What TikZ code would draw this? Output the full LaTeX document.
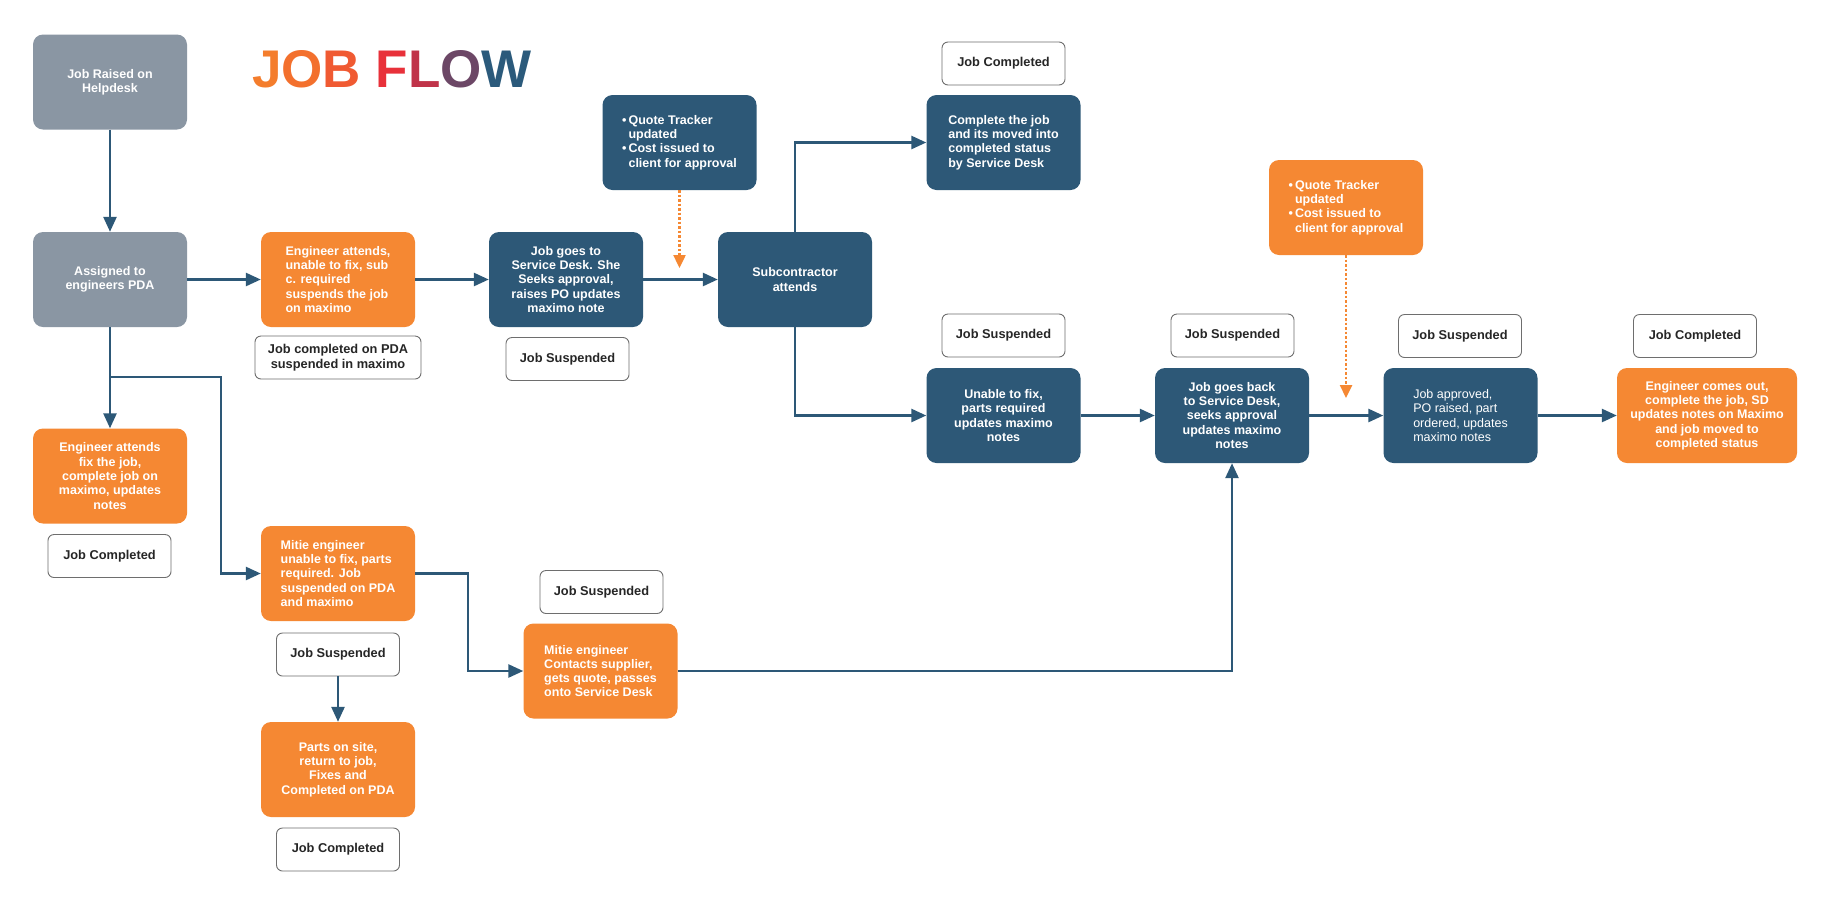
\documentclass[tikz,border=0pt]{standalone}
\usepackage{fontspec}
\setmainfont{Liberation Sans}
\usetikzlibrary{arrows.meta}
\definecolor{dblue}{HTML}{2D5877}
\definecolor{orng}{HTML}{F58833}
\definecolor{gry}{HTML}{8A96A3}
\definecolor{lgray}{HTML}{6E6E6E}
\definecolor{txt}{HTML}{262626}
\definecolor{tA}{HTML}{F47D2C}
\definecolor{tB}{HTML}{F3702D}
\definecolor{tC}{HTML}{F05A32}
\definecolor{tD}{HTML}{E8313A}
\definecolor{tE}{HTML}{C03349}
\definecolor{tF}{HTML}{6C4766}
\definecolor{tG}{HTML}{2B5A7B}
\tikzset{
  boxbase/.style={rounded corners=10pt, minimum width=154pt, minimum height=95pt,
    text=white, font=\bfseries\fontsize{12.5}{14.3}\selectfont, align=center, inner sep=0pt},
  bbox/.style={boxbase, fill=dblue},
  obox/.style={boxbase, fill=orng},
  gbox/.style={boxbase, fill=gry},
  lbl/.style={draw=lgray, line width=0.9pt, rounded corners=6pt, fill=white,
    minimum width=123pt, minimum height=43pt, inner sep=0pt,
    font=\bfseries\fontsize{12.8}{14.5}\selectfont, text=txt, align=center},
  arr/.style={draw=dblue, line width=2.6pt, -{Triangle[length=15pt,width=13pt]}},
  dotarr/.style={draw=orng, line width=2.4pt, dash pattern=on 2.5pt off 2pt,
    -{Triangle[length=13pt,width=12pt]}}
}
\newcommand{\bul}{\textbullet\,}
\newcommand{\nobul}{\phantom{\textbullet\,}}
\begin{document}
\begin{tikzpicture}[x=1pt,y=-1pt]
\useasboundingbox[fill=white] (0,0) rectangle (1836,903);

% title
\node[anchor=base west, inner sep=0pt, font=\bfseries\fontsize{53}{60}\selectfont] (title) at (252,87)
  {\textcolor{tA}{J}\textcolor{tB}{O}\textcolor{tC}{B} \textcolor{tD}{F}\textcolor{tE}{L}\textcolor{tF}{O}\textcolor{tG}{W}};

% boxes
\node[gbox] (raised) at (110,82) {Job Raised on\\Helpdesk};
\node[gbox] (assigned) at (110,279.5) {Assigned to\\engineers PDA};
\node[obox, align=left] (engA) at (338,279.5) {Engineer attends,\\unable to fix, sub\\c. required\\suspends the job\\on maximo};
\node[lbl, minimum width=166pt] (lblA) at (338,357.5) {Job completed on PDA\\suspended in maximo};
\node[bbox] (sd) at (566,279.5) {Job goes to\\Service Desk. She\\Seeks approval,\\raises PO updates\\maximo note};
\node[lbl] (lblSD) at (567.5,359) {Job Suspended};
\node[bbox, align=left] (qt1) at (679.5,142.5) {\bul Quote Tracker\\\nobul updated\\\bul Cost issued to\\\nobul client for approval};
\node[bbox] (sub) at (795,279.5) {Subcontractor\\attends};
\node[bbox, align=left] (complete) at (1003.5,142.5) {Complete the job\\and its moved into\\completed status\\by Service Desk};
\node[lbl] (lblC1) at (1003.5,63.5) {Job Completed};
\node[bbox] (unable) at (1003.5,415.5) {Unable to fix,\\parts required\\updates maximo\\notes};
\node[lbl] (lblU) at (1003.5,335.5) {Job Suspended};
\node[bbox] (back) at (1232,415.5) {Job goes back\\to Service Desk,\\seeks approval\\updates maximo\\notes};
\node[lbl] (lblB) at (1232.5,335.5) {Job Suspended};
\node[obox, align=left] (qt2) at (1346,207.5) {\bul Quote Tracker\\\nobul updated\\\bul Cost issued to\\\nobul client for approval};
\node[bbox, align=left, font=\fontsize{12.5}{14.3}\selectfont] (approved) at (1460.5,415.5) {Job approved,\\PO raised, part\\ordered, updates\\maximo notes};
\node[lbl] (lblAp) at (1460,336) {Job Suspended};
\node[obox, minimum width=180pt] (engOut) at (1707,415.5) {Engineer comes out,\\complete the job, SD\\updates notes on Maximo\\and job moved to\\completed status};
\node[lbl] (lblEO) at (1695,336) {Job Completed};
\node[obox] (engFix) at (110,476) {Engineer attends\\fix the job,\\complete job on\\maximo, updates\\notes};
\node[lbl] (lblFix) at (109.5,556) {Job Completed};
\node[obox, align=left] (mitie) at (338,573.5) {Mitie engineer\\unable to fix, parts\\required. Job\\suspended on PDA\\and maximo};
\node[lbl] (lblMitie) at (338,654.5) {Job Suspended};
\node[obox] (parts) at (338,769.5) {Parts on site,\\return to job,\\Fixes and\\Completed on PDA};
\node[lbl] (lblParts) at (338,849.5) {Job Completed};
\node[obox, align=left] (contacts) at (600.5,671) {Mitie engineer\\Contacts supplier,\\gets quote, passes\\onto Service Desk};
\node[lbl] (lblContacts) at (601.5,592) {Job Suspended};

% helper coordinates
\coordinate (br0) at (110,377);
\coordinate (br1) at (221,377);
\coordinate (m1) at (468,573.5);
\coordinate (qt1tip) at (679.5,268);
\coordinate (qt2tip) at (1346,398);

% connectors
\draw[arr] (raised) -- (assigned);
\draw[arr] (assigned) -- (engFix);
\draw[arr] (assigned) -- (engA);
\draw[arr] (engA) -- (sd);
\draw[arr] (sd) -- (sub);
\draw[arr] (sub.north) |- (complete.west);
\draw[arr] (sub.south) |- (unable.west);
\draw[arr] (unable) -- (back);
\draw[arr] (back) -- (approved);
\draw[arr] (approved) -- (engOut);
\draw[arr] (br0) -- (br1) |- (mitie.west);
\draw[arr] (mitie.east) -- (m1) |- (contacts.west);
\draw[arr] (contacts.east) -| (back.south);
\draw[arr] (lblMitie) -- (parts);
\draw[dotarr] (qt1.south) -- (qt1tip);
\draw[dotarr] (qt2.south) -- (qt2tip);
\end{tikzpicture}
\end{document}
